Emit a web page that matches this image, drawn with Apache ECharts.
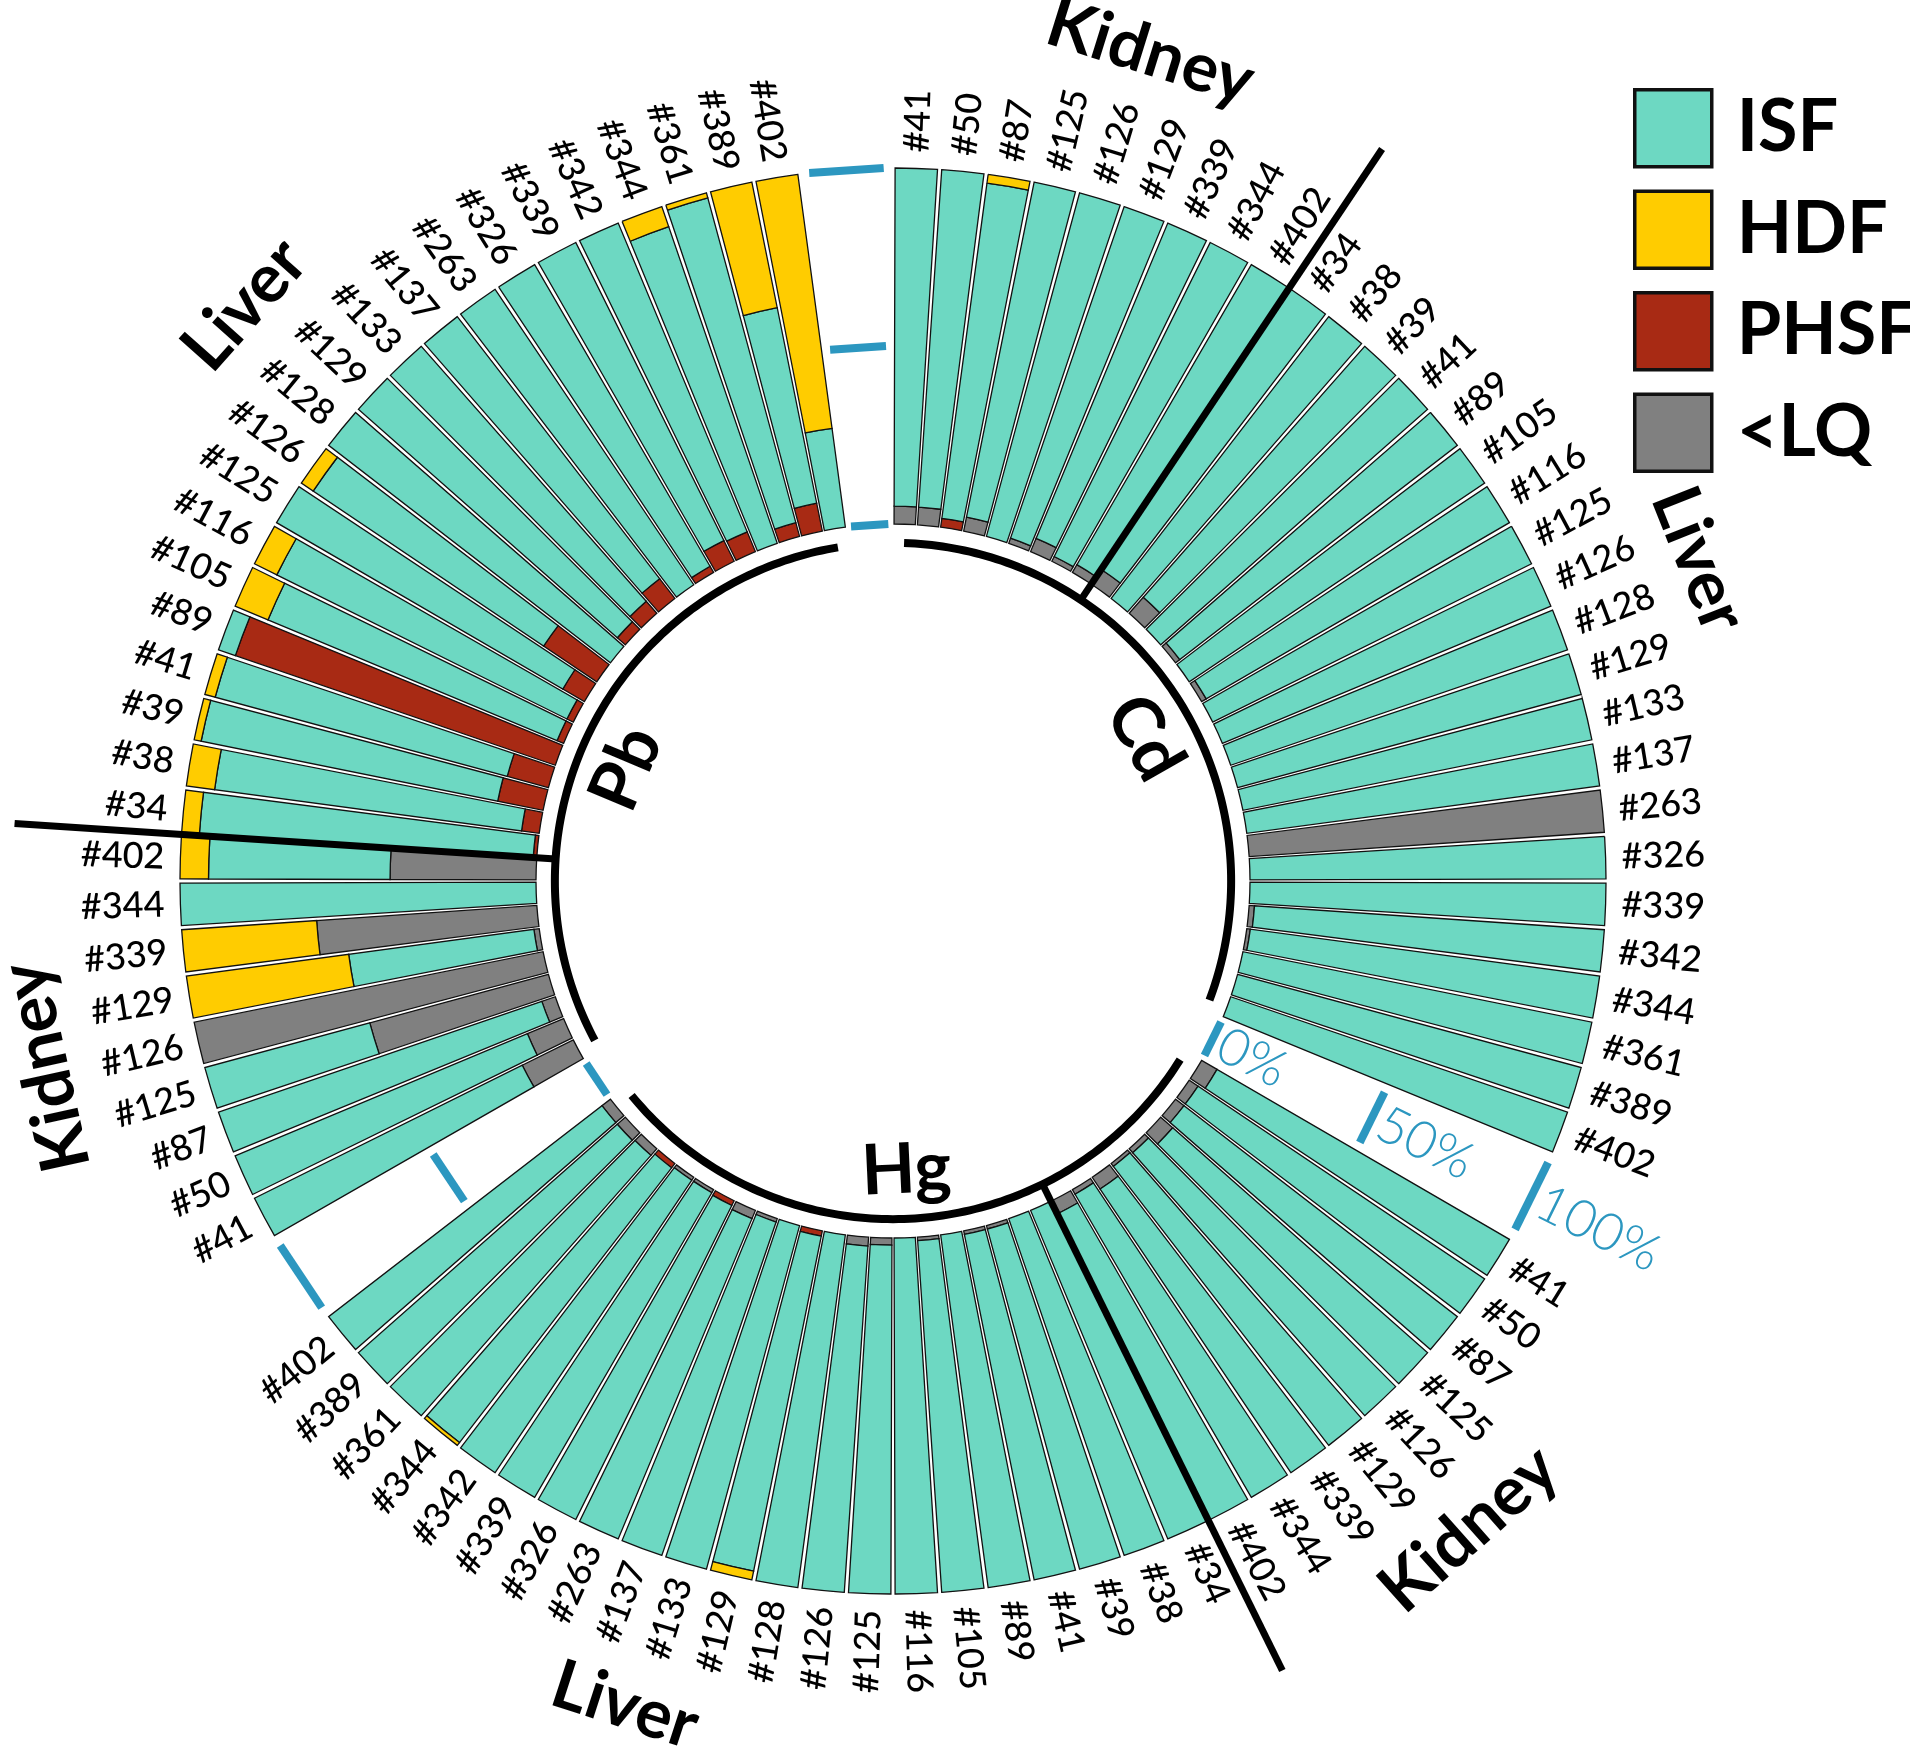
<!DOCTYPE html>
<html>
<head>
<meta charset="utf-8">
<script src="https://cdn.jsdelivr.net/npm/echarts@6/dist/echarts.min.js"></script>
<style>
  html, body { margin: 0; padding: 0; background: #fff; }
  #chart { width: 1910px; height: 1753px; }
</style>
</head>
<body>
<div id="chart"></div>
<script>
// samples, kidney first then liver, same order in every element block
var kidneySamples = ['#41', '#50', '#87', '#125', '#126', '#129', '#339', '#344', '#402'];
var liverSamples = ['#34', '#38', '#39', '#41', '#89', '#105', '#116', '#125', '#126', '#128', '#129',
  '#133', '#137', '#263', '#326', '#339', '#342', '#344', '#361', '#389', '#402'];
var elements = ['Cd', 'Hg', 'Pb'];
var tissues = ['Kidney', 'Liver'];
var fractions = ['ISF', 'HDF', 'PHSF', '<LQ'];
var scaleTicks = [0, 50, 100];
var scaleLabels = ['0%', '50%', '100%'];

// % of each fraction (9 kidney values, then 21 liver values)
var cdISF  = [95, 95, 95, 96, 100, 98.5, 96, 98.5, 97.5,
  95, 100, 94, 100, 98.5, 100, 98.5, 100, 100, 100, 100, 100, 100, 0, 100, 100, 98.5, 99, 100, 100, 100];
var cdHDF  = [0, 0, 2.5, 0, 0, 0, 0, 0, 0,
  0, 0, 0, 0, 0, 0, 0, 0, 0, 0, 0, 0, 0, 0, 0, 0, 0, 0, 0, 0, 0];
var cdPHSF = [0, 0, 2.5, 0, 0, 0, 0, 0, 0,
  0, 0, 0, 0, 0, 0, 0, 0, 0, 0, 0, 0, 0, 0, 0, 0, 0, 0, 0, 0, 0];
var cdLQ   = [5, 5, 0, 4, 0, 1.5, 4, 1.5, 2.5,
  5, 0, 6, 0, 1.5, 0, 1.5, 0, 0, 0, 0, 0, 0, 100, 0, 0, 1.5, 1, 0, 0, 0];

var hgISF  = [95, 97, 97, 95.5, 98.5, 99, 96, 98.5, 96,
  100, 100, 99, 99, 100, 99, 100, 98, 97.5, 100, 96, 100, 99, 97.5, 98.5, 99, 99, 97.5, 97.5, 97, 97];
var hgHDF  = [0, 0, 0, 0, 0, 0, 0, 0, 0,
  0, 0, 0, 0, 0, 0, 0, 0, 0, 0, 2.5, 0, 0, 0, 0, 0, 0, 1, 0, 0, 0];
var hgPHSF = [0, 0, 0, 0, 0, 0, 0, 0, 0,
  0, 0, 0, 0, 0, 0, 0, 0, 0, 0, 1.5, 0, 0, 0, 1.5, 0, 0, 1.5, 0, 0, 0];
var hgLQ   = [5, 3, 3, 4.5, 1.5, 1, 4, 1.5, 4,
  0, 0, 1, 1, 0, 1, 0, 2, 2.5, 0, 0, 0, 1, 2.5, 0, 1, 1, 0, 2.5, 3, 3];

var pbISF  = [84, 89, 96, 48, 0, 52.5, 0, 100, 51,
  94, 87, 85, 85, 5, 88, 91, 93, 78, 100, 97, 95.5, 93, 100, 98, 93.5, 94, 94, 94.5, 56, 28];
var pbHDF  = [0, 0, 0, 0, 0, 46, 38, 0, 8,
  5, 8, 2, 3, 0, 10, 7, 0, 4, 0, 0, 0, 0, 0, 0, 0, 0, 6, 1.5, 36, 72];
var pbPHSF = [0, 0, 0, 0, 0, 0, 0, 0, 0,
  1, 5, 13, 12, 95, 2, 2, 7, 18, 0, 3, 4.5, 7, 0, 2, 6.5, 6, 0, 4, 8, 0];
var pbLQ   = [16, 11, 4, 52, 100, 1.5, 62, 0, 41,
  0, 0, 0, 0, 0, 0, 0, 0, 0, 0, 0, 0, 0, 0, 0, 0, 0, 0, 0, 0, 0];

// label positions (in bar units)
var tissueLabelAt = [4.6, 18.2, 36.9, 52.8, 68.7, 83.1];
var elementLabelAt = [16.1, 47.3, 78.1];

var colors = { 'ISF': '#6dd8c2', 'HDF': '#ffcc00', 'PHSF': '#a82a14', '<LQ': '#808080' };
var blue = '#2c97c0';
var GAP = 2;
var BLOCK = kidneySamples.length + liverSamples.length + GAP;
var CENTER = [893, 881];
var RADIUS = [357, 713];
// radial positions in % units of the radius axis (0 = bar base, 100 = bar top)
var R_ARC = -5.3, R_SEP = 147, R_LABEL = 104.5, R_TISSUE = 143.3, R_ELEM = -19;

var categories = [];
elements.forEach(function () {
  kidneySamples.concat(liverSamples).forEach(function (s) { categories.push(s); });
  for (var g = 0; g < GAP; g++) categories.push('');
});

function withGaps(a, b, c) {
  var out = [];
  [a, b, c].forEach(function (arr) {
    arr.forEach(function (v) { out.push(v > 0 ? v : '-'); });
    for (var g = 0; g < GAP; g++) out.push('-');
  });
  return out;
}

var fracData = {
  'ISF': withGaps(cdISF, hgISF, pbISF),
  'HDF': withGaps(cdHDF, hgHDF, pbHDF),
  'PHSF': withGaps(cdPHSF, hgPHSF, pbPHSF),
  '<LQ': withGaps(cdLQ, hgLQ, pbLQ)
};

function radialText(params, p, text, style) {
  var cs = params.coordSys;
  var a = Math.atan2(p[1] - cs.cy, p[0] - cs.cx);
  var right = p[0] - cs.cx >= -0.5;
  style.text = text;
  style.align = right ? 'left' : 'right';
  style.verticalAlign = 'middle';
  return { type: 'text', x: p[0], y: p[1], rotation: right ? -a : Math.PI - a, style: style };
}

function tangentText(params, p, text, style) {
  var cs = params.coordSys;
  var dx = p[0] - cs.cx, dy = p[1] - cs.cy;
  var r = Math.sqrt(dx * dx + dy * dy);
  var rot = -(Math.atan2(dy, dx) + Math.PI / 2);
  if (dy / r > 0.3) rot += Math.PI;
  style.text = text;
  style.align = 'center';
  style.verticalAlign = 'middle';
  return { type: 'text', x: p[0], y: p[1], rotation: rot, style: style };
}

var series = [];
['<LQ', 'PHSF', 'ISF', 'HDF'].forEach(function (name) {
  series.push({
    name: name,
    type: 'bar',
    coordinateSystem: 'polar',
    polarIndex: 0,
    stack: 'frac',
    barCategoryGap: '9%',
    data: fracData[name],
    itemStyle: { color: colors[name], borderColor: '#111', borderWidth: 1.3 }
  });
});

// sample labels
var labelData = [];
categories.forEach(function (c, i) { if (c) labelData.push([R_LABEL, i]); });
series.push({
  type: 'custom', coordinateSystem: 'polar', polarIndex: 0, silent: true, z: 5,
  data: labelData,
  renderItem: function (params, api) {
    var p = api.coord([api.value(0), api.value(1)]);
    return radialText(params, p, categories[api.value(1)], {
      fill: '#000', fontFamily: 'Lato', fontSize: 36, fontWeight: 500
    });
  }
});

// element arcs
series.push({
  type: 'custom', coordinateSystem: 'polar', polarIndex: 1, silent: true, z: 5,
  data: elements.map(function (e, i) { return [R_ARC, i * BLOCK + 0.5, i * BLOCK + BLOCK - GAP - 0.5]; }),
  renderItem: function (params, api) {
    var pts = [];
    for (var u = api.value(1); u <= api.value(2) + 1e-6; u += 0.25) pts.push(api.coord([api.value(0), u]));
    return { type: 'polyline', shape: { points: pts }, style: { stroke: '#000', lineWidth: 8, fill: null } };
  }
});

// kidney / liver separators
series.push({
  type: 'custom', coordinateSystem: 'polar', polarIndex: 1, silent: true, z: 6,
  data: elements.map(function (e, i) { return [R_ARC, i * BLOCK + kidneySamples.length, R_SEP]; }),
  renderItem: function (params, api) {
    var a = api.coord([api.value(0), api.value(1)]);
    var b = api.coord([api.value(2), api.value(1)]);
    return { type: 'line', shape: { x1: a[0], y1: a[1], x2: b[0], y2: b[1] }, style: { stroke: '#000', lineWidth: 7 } };
  }
});

// scale ticks in the gaps
var tickData = [];
elements.forEach(function (e, i) {
  var g = i * BLOCK + BLOCK - GAP;
  scaleTicks.forEach(function (v) { tickData.push([v, g + 0.2, g + GAP - 0.2]); });
});
series.push({
  type: 'custom', coordinateSystem: 'polar', polarIndex: 1, silent: true, z: 5,
  data: tickData,
  renderItem: function (params, api) {
    var a = api.coord([api.value(0), api.value(1)]);
    var b = api.coord([api.value(0), api.value(2)]);
    return { type: 'line', shape: { x1: a[0], y1: a[1], x2: b[0], y2: b[1] }, style: { stroke: blue, lineWidth: 8 } };
  }
});

// scale labels in the first gap
series.push({
  type: 'custom', coordinateSystem: 'polar', polarIndex: 1, silent: true, z: 5,
  data: scaleTicks.map(function (v) { return [v + 2.2, BLOCK - GAP / 2]; }),
  renderItem: function (params, api) {
    var p = api.coord([api.value(0), api.value(1)]);
    return radialText(params, p, scaleLabels[params.dataIndex], {
      fill: blue, fontFamily: 'Lato', fontSize: 52, fontWeight: 300
    });
  }
});

// tissue labels
var tissueData = [];
elements.forEach(function (e, i) {
  tissues.forEach(function (t, j) { tissueData.push([R_TISSUE, tissueLabelAt[i * 2 + j]]); });
});
series.push({
  type: 'custom', coordinateSystem: 'polar', polarIndex: 1, silent: true, z: 5,
  data: tissueData,
  renderItem: function (params, api) {
    var p = api.coord([api.value(0), api.value(1)]);
    return tangentText(params, p, tissues[params.dataIndex % 2], {
      fill: '#000', fontFamily: 'Lato', fontSize: 68, fontWeight: 'bold'
    });
  }
});

// element labels
series.push({
  type: 'custom', coordinateSystem: 'polar', polarIndex: 1, silent: true, z: 5,
  data: elementLabelAt.map(function (u) { return [R_ELEM, u]; }),
  renderItem: function (params, api) {
    var p = api.coord([api.value(0), api.value(1)]);
    return tangentText(params, p, elements[params.dataIndex], {
      fill: '#000', fontFamily: 'Lato', fontSize: 70, fontWeight: 'bold'
    });
  }
});

var chart = echarts.init(document.getElementById('chart'));
chart.setOption({
  backgroundColor: '#fff',
  animation: false,
  legend: {
    data: fractions,
    orient: 'vertical',
    left: 1628,
    top: 83,
    icon: 'rect',
    itemWidth: 77,
    itemHeight: 77,
    itemGap: 21,
    selectedMode: false,
    itemStyle: { borderColor: '#111', borderWidth: 3.5 },
    textStyle: { fontFamily: 'Lato', fontWeight: 'bold', fontSize: 72, color: '#000', padding: [0, 0, 0, 20], lineHeight: 77 }
  },
  polar: [
    { center: CENTER, radius: RADIUS },
    { center: CENTER, radius: RADIUS }
  ],
  angleAxis: [
    { polarIndex: 0, type: 'category', data: categories, startAngle: 90, clockwise: true, show: false },
    { polarIndex: 1, type: 'value', min: 0, max: categories.length, startAngle: 90, clockwise: true, show: false }
  ],
  radiusAxis: [
    { polarIndex: 0, type: 'value', min: 0, max: 100, show: false },
    { polarIndex: 1, type: 'value', min: 0, max: 100, show: false }
  ],
  series: series
});
</script>
</body>
</html>
